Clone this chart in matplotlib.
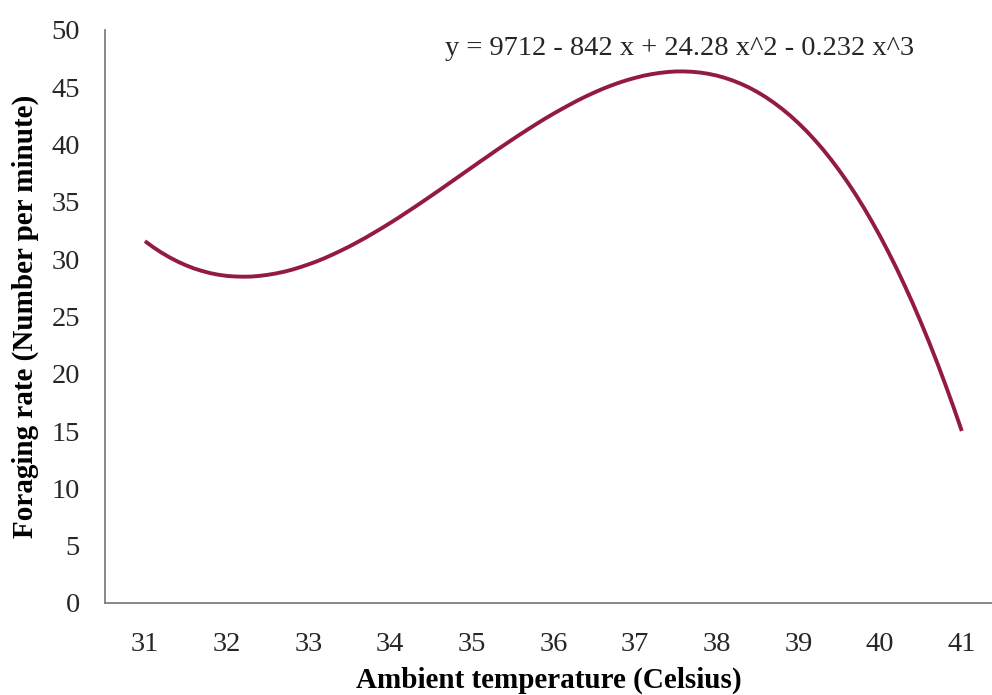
import matplotlib
matplotlib.use("Agg")
import matplotlib.pyplot as plt

# values, every 0.1 degree
temps = [31.0, 31.1, 31.2, 31.3, 31.4, 31.5, 31.6, 31.7, 31.8, 31.9,
         32.0, 32.1, 32.2, 32.3, 32.4, 32.5, 32.6, 32.7, 32.8, 32.9,
         33.0, 33.1, 33.2, 33.3, 33.4, 33.5, 33.6, 33.7, 33.8, 33.9,
         34.0, 34.1, 34.2, 34.3, 34.4, 34.5, 34.6, 34.7, 34.8, 34.9,
         35.0, 35.1, 35.2, 35.3, 35.4, 35.5, 35.6, 35.7, 35.8, 35.9,
         36.0, 36.1, 36.2, 36.3, 36.4, 36.5, 36.6, 36.7, 36.8, 36.9,
         37.0, 37.1, 37.2, 37.3, 37.4, 37.5, 37.6, 37.7, 37.8, 37.9,
         38.0, 38.1, 38.2, 38.3, 38.4, 38.5, 38.6, 38.7, 38.8, 38.9,
         39.0, 39.1, 39.2, 39.3, 39.4, 39.5, 39.6, 39.7, 39.8, 39.9,
         40.0, 40.1, 40.2, 40.3, 40.4, 40.5, 40.6, 40.7, 40.8, 40.9,
         41.0]
rate = [31.57, 31.05, 30.58, 30.16, 29.79, 29.47, 29.19, 28.97, 28.78, 28.64,
        28.54, 28.49, 28.47, 28.48, 28.54, 28.63, 28.75, 28.90, 29.08, 29.30,
        29.54, 29.80, 30.09, 30.41, 30.75, 31.10, 31.48, 31.87, 32.29, 32.71,
        33.15, 33.60, 34.07, 34.54, 35.02, 35.51, 36.00, 36.50, 37.00, 37.50,
        38.00, 38.50, 38.99, 39.49, 39.97, 40.45, 40.92, 41.38, 41.83, 42.27,
        42.69, 43.09, 43.48, 43.86, 44.21, 44.54, 44.85, 45.13, 45.39, 45.62,
        45.82, 46.00, 46.14, 46.25, 46.33, 46.38, 46.38, 46.35, 46.28, 46.17,
        46.02, 45.82, 45.58, 45.29, 44.96, 44.57, 44.14, 43.65, 43.11, 42.52,
        41.87, 41.17, 40.40, 39.58, 38.69, 37.74, 36.73, 35.65, 34.50, 33.28,
        32.00, 30.64, 29.22, 27.71, 26.14, 24.48, 22.75, 20.94, 19.04, 17.07,
        15.01]
xticks = [31, 32, 33, 34, 35, 36, 37, 38, 39, 40, 41]
yticks = [0, 5, 10, 15, 20, 25, 30, 35, 40, 45, 50]
equation = "y = 9712 - 842 x + 24.28 x^2 - 0.232 x^3"

plt.rcParams['font.family'] = ['Liberation Serif', 'DejaVu Serif']

fig = plt.figure(figsize=(9.92, 6.95), dpi=100)
ax = fig.add_axes([0.1058, 0.1324, 0.8942, 0.8245])

ax.plot(temps, rate, color="#931a47", lw=2.8, solid_capstyle="butt")

ax.set_xlim(30.51, 41.37)
ax.set_ylim(0, 50)
ax.set_xticks(xticks)
ax.set_yticks(yticks)
ax.tick_params(axis="both", length=0, labelsize=20.5, colors="#262626")
ax.tick_params(axis="x", pad=21)
ax.tick_params(axis="y", pad=18)

for s in ["top", "right"]:
    ax.spines[s].set_visible(False)
for s in ["left", "bottom"]:
    ax.spines[s].set_color("#7f7f7f")
    ax.spines[s].set_linewidth(1.3)

ax.text(37.55, 48.4, equation, ha="center", va="center", fontsize=20.5,
        color="#262626")

ax.set_xlabel("Ambient temperature (Celsius)", fontsize=21, fontweight="bold",
              labelpad=7)
ax.set_ylabel("Foraging rate (Number per minute)", fontsize=21,
              fontweight="bold", labelpad=9)

fig.savefig("out.png", dpi=100)
